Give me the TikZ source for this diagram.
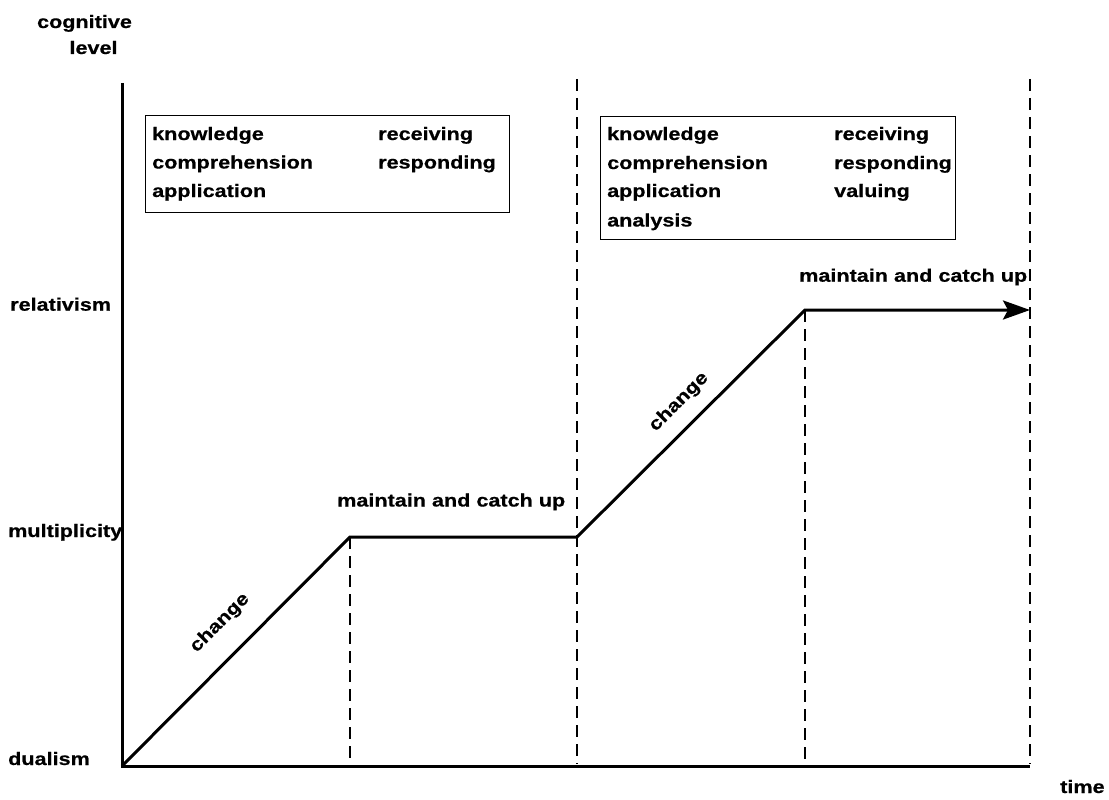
\documentclass[tikz,border=0pt]{standalone}
\usepackage{fontspec}
\setmainfont{Liberation Sans}[FakeStretch=1.2, BoldFeatures={FakeBold=0.6}]
\usetikzlibrary{arrows.meta}
\tikzset{
  lbl/.style={font=\fontsize{18}{21}\selectfont\bfseries, inner sep=0pt, anchor=base west},
  axisline/.style={line width=3pt},
  curve/.style={line width=3pt, line join=miter},
  guide/.style={line width=1.8pt, dash pattern=on 12pt off 7pt},
  boxstyle/.style={draw, line width=1.3pt, inner sep=0pt, anchor=north west},
}
\begin{document}
\begin{tikzpicture}[x=1pt,y=-1pt]
\useasboundingbox (0,0) rectangle (1109,800);
% axis labels
\node[lbl, anchor=base] (cog) at (84.5,28) {cognitive};
\node[lbl, anchor=base] (lev) at (93.5,54) {level};
\node[lbl] (rel) at (10,310.7) {relativism};
\node[lbl] (mul) at (8,537) {multiplicity};
\node[lbl] (dua) at (8,765) {dualism};
\node[lbl] (tim) at (1060,793) {time};
% axes
\coordinate (O) at (122,766);
\coordinate (ytop) at (122,83);
\coordinate (xend) at (1030,766);
\draw[axisline] (ytop) -- (O) -- (xend);
% path points
\coordinate (p1) at (350,537);
\coordinate (p2) at (577,537);
\coordinate (p3) at (805,310);
\coordinate (p4) at (1030,310);
% dashed guides
\coordinate (g1) at (350,764);
\coordinate (g2t) at (577,79);
\coordinate (g2b) at (577,764);
\coordinate (g3) at (805,764);
\coordinate (g4t) at (1030,79);
\coordinate (g4b) at (1030,764);
\draw[guide] (p1) -- (g1);
\draw[guide] (g2t) -- (g2b);
\draw[guide] (p3) -- (g3);
\draw[guide] (g4t) -- (g4b);
% main curve
\draw[curve, -{Stealth[length=27pt,width=19pt,inset=5pt]}] (O) -- (p1) -- (p2) -- (p3) -- (p4);
% labels on curve
\node[lbl, anchor=center, rotate=45] (ch1) at (220,623) {change};
\node[lbl, anchor=center, rotate=45] (ch2) at (679,402) {change};
\node[lbl] (m1) at (337,506.5) {maintain and catch up};
\node[lbl] (m2) at (799,281.7) {maintain and catch up};
% box 1
\node[boxstyle, minimum width=364pt, minimum height=97pt] (box1) at (145,115) {};
\node[lbl] (b1a) at (152,140) {knowledge};
\node[lbl] (b1b) at (152,168.5) {comprehension};
\node[lbl] (b1c) at (152,197) {application};
\node[lbl] (b1d) at (378,140) {receiving};
\node[lbl] (b1e) at (378,168.5) {responding};
% box 2
\node[boxstyle, minimum width=355pt, minimum height=123pt] (box2) at (600,116) {};
\node[lbl] (b2a) at (607,140) {knowledge};
\node[lbl] (b2b) at (607,169) {comprehension};
\node[lbl] (b2c) at (607,197) {application};
\node[lbl] (b2d) at (607,226.5) {analysis};
\node[lbl] (b2e) at (834,140) {receiving};
\node[lbl] (b2f) at (834,169) {responding};
\node[lbl] (b2g) at (834,197) {valuing};
\end{tikzpicture}
\end{document}
